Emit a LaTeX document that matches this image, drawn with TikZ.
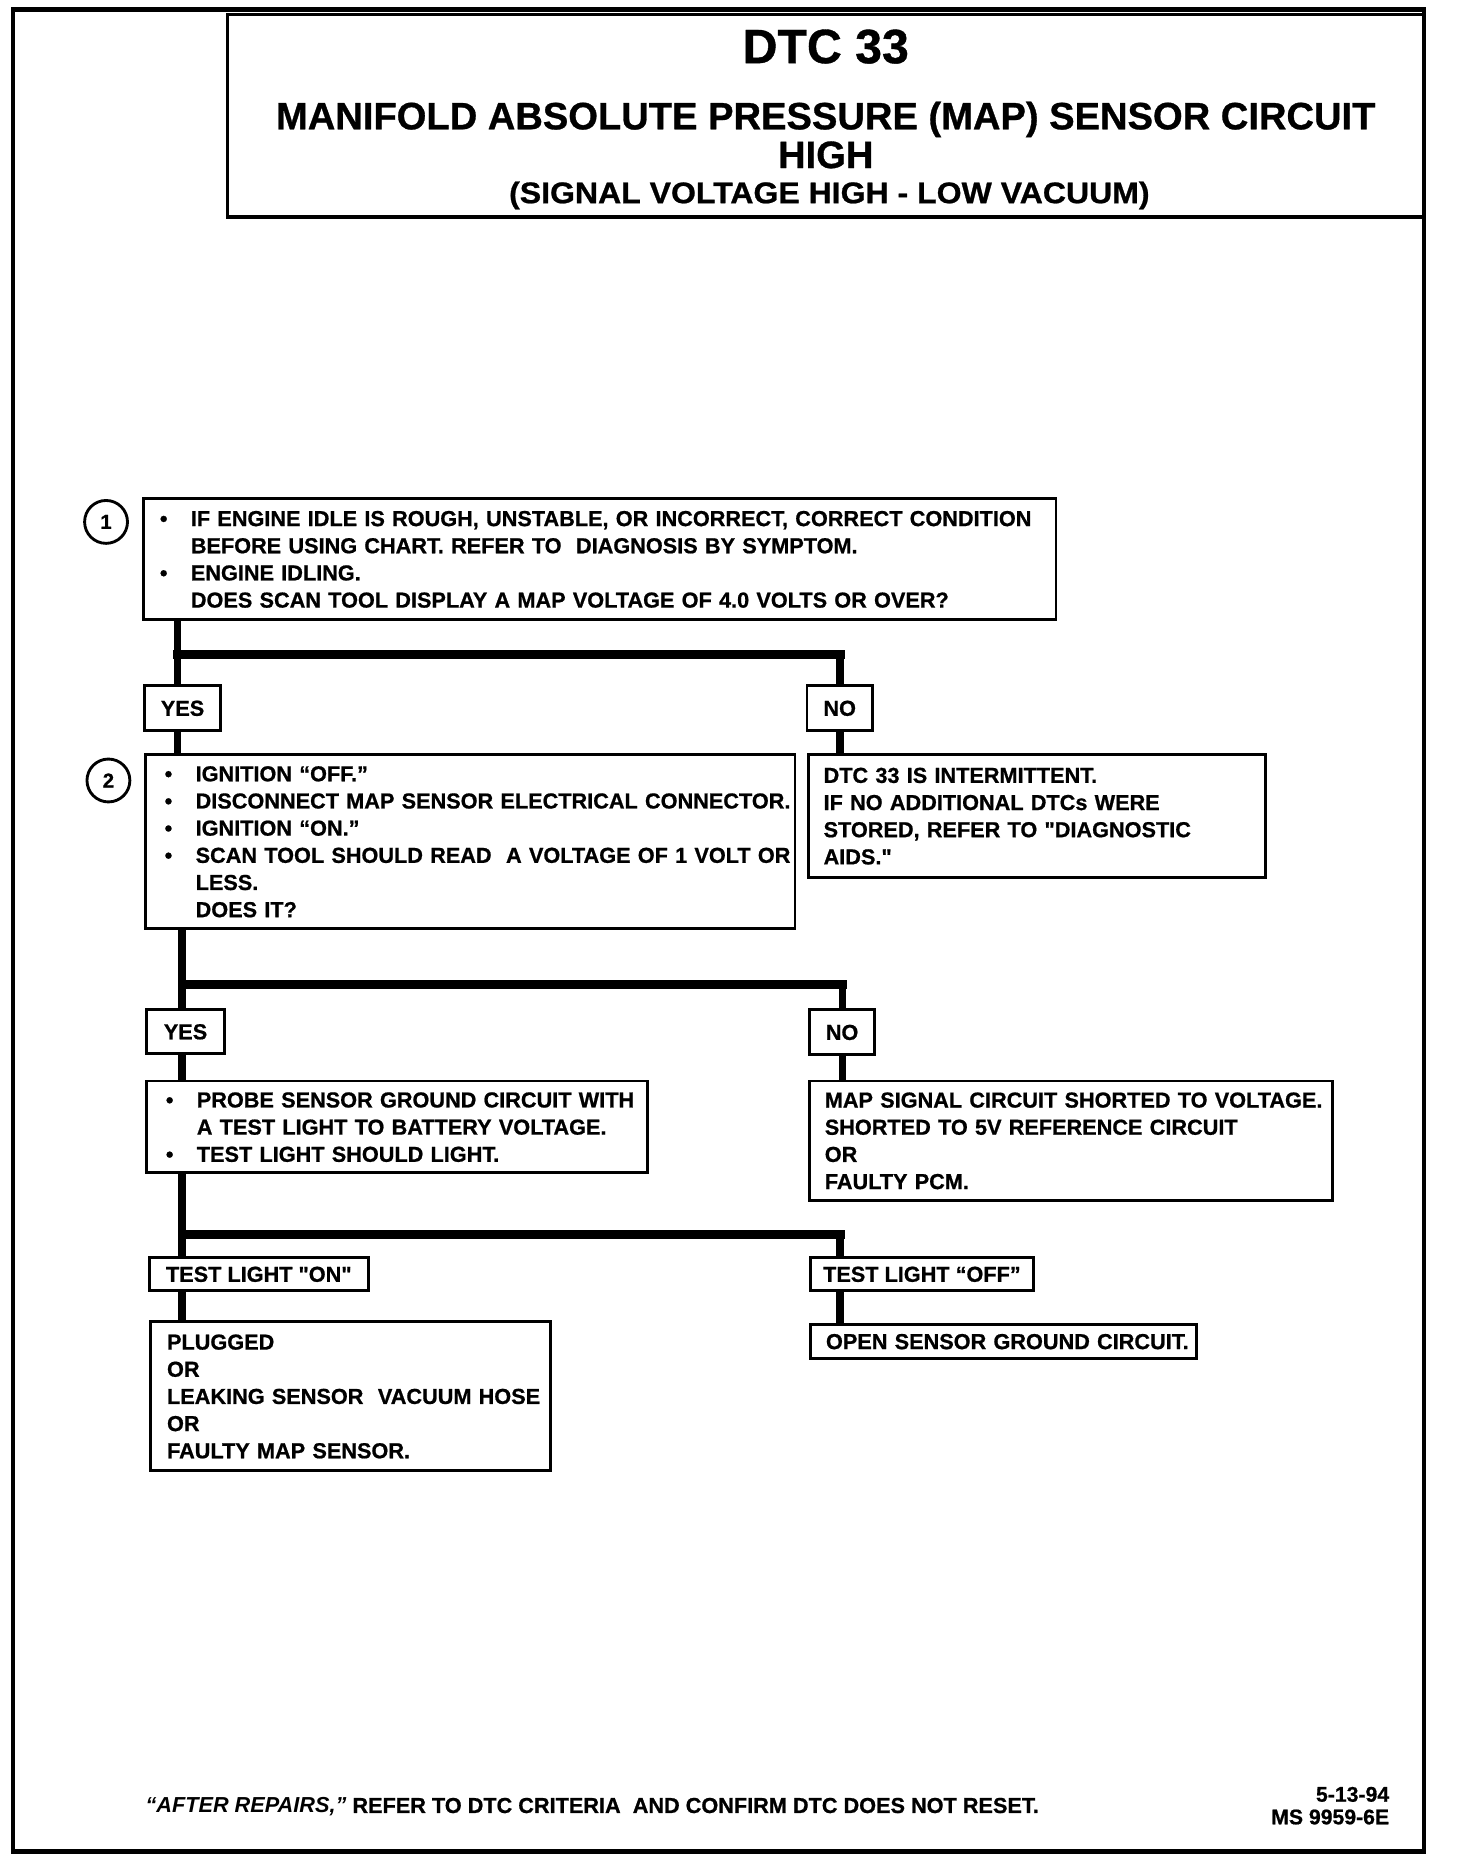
\documentclass[tikz,border=0pt]{standalone}
\usepackage{fontspec}
\usepackage{graphicx}
\setmainfont{Liberation Sans}[Ligatures=TeXOff, BoldFeatures={FakeBold=0.8}]
\newcommand{\bodyf}{\fontsize{18.2}{22.8}\selectfont\bfseries}
\newcommand{\bul}{\makebox[26pt][l]{\textbullet}}
\newcommand{\ind}{\hspace*{26pt}}
\begin{document}
\begin{tikzpicture}[x=1pt,y=-1pt,
  box/.style={draw, line width=2.4pt, anchor=north west, inner ysep=0pt, font=\bodyf, align=left, text height=13pt},
  lbl/.style={draw, line width=2.4pt, anchor=north west, inner sep=0pt, font=\bodyf, text height=13pt, text depth=0pt},
  flow/.style={line width=6.5pt},
  bar/.style={line width=7.5pt, line cap=rect},
  num/.style={circle, draw, line width=2.4pt, minimum size=36pt, inner sep=0pt, font=\fontsize{17}{17}\selectfont\bfseries},
  frame/.style={line width=4pt},
  ttl/.style={anchor=base, inner sep=0pt}
]
\useasboundingbox (0,0) rectangle (1222,1566);
% outer frame and title box
\draw[frame] (11,8) rectangle (1195,1554);
\draw[line width=3pt] (191,12) rectangle (1195,182);
\node[ttl, font=\fontsize{40.5}{40}\selectfont\bfseries] (t1) at (693,53) {DTC 33};
\node[ttl, font=\fontsize{32}{32}\selectfont\bfseries] (t2) at (693,108.5) {MANIFOLD ABSOLUTE PRESSURE (MAP) SENSOR CIRCUIT};
\node[ttl, font=\fontsize{32}{32}\selectfont\bfseries] (t3) at (693,141) {HIGH};
\node[ttl, font=\fontsize{25}{25}\selectfont\bfseries] (t4) at (696,170.5) {\scalebox{1.075}[1]{(SIGNAL VOLTAGE HIGH - LOW VACUUM)}};

% step numbers
\node[num] (c1) at (89,438) {1};
\node[num] (c2) at (91,655) {2};

% boxes
\node[box, inner xsep=14pt, text width=738pt, minimum height=102pt, text depth=68.4pt] (b1) at (119,417)
 {\mbox{\bul IF ENGINE IDLE IS ROUGH, UNSTABLE, OR INCORRECT, CORRECT CONDITION}\\
  \mbox{\ind BEFORE USING CHART. REFER TO\ \ DIAGNOSIS BY SYMPTOM.}\\
  \mbox{\bul ENGINE IDLING.}\\
  \mbox{\ind DOES SCAN TOOL DISPLAY A MAP VOLTAGE OF 4.0 VOLTS OR OVER?}};

\node[lbl, minimum width=64pt, minimum height=38pt] (yes1) at (120,574) {YES};
\node[lbl, minimum width=55pt, minimum height=38pt] (no1) at (676,574) {NO};

\node[box, inner xsep=16pt, text width=513pt, minimum height=146pt, text depth=114pt] (b2) at (121,632)
 {\mbox{\bul IGNITION “OFF.”}\\
  \mbox{\bul DISCONNECT MAP SENSOR ELECTRICAL CONNECTOR.}\\
  \mbox{\bul IGNITION “ON.”}\\
  \mbox{\bul SCAN TOOL SHOULD READ\ \ A VOLTAGE OF 1 VOLT OR}\\
  \mbox{\ind LESS.}\\
  \mbox{\ind DOES IT?}};

\node[box, inner xsep=13pt, text width=358pt, minimum height=103pt, text depth=68.4pt] (dtc) at (677,632)
 {\mbox{DTC 33 IS INTERMITTENT.}\\
  \mbox{IF NO ADDITIONAL DTCs WERE}\\
  \mbox{STORED, REFER TO "DIAGNOSTIC}\\
  \mbox{AIDS."}};

\node[lbl, minimum width=65pt, minimum height=37pt] (yes2) at (122,846) {YES};
\node[lbl, minimum width=55pt, minimum height=38pt] (no2) at (678,846) {NO};

\node[box, inner xsep=16pt, text width=388pt, minimum height=77pt, text depth=45.6pt] (b3) at (122,906)
 {\mbox{\bul PROBE SENSOR GROUND CIRCUIT WITH}\\
  \mbox{\ind A TEST LIGHT TO BATTERY VOLTAGE.}\\
  \mbox{\bul TEST LIGHT SHOULD LIGHT.}};

\node[box, inner xsep=13pt, text width=413pt, minimum height=100pt, text depth=68.4pt] (mapb) at (678,906)
 {\mbox{MAP SIGNAL CIRCUIT SHORTED TO VOLTAGE.}\\
  \mbox{SHORTED TO 5V REFERENCE CIRCUIT}\\
  \mbox{OR}\\
  \mbox{FAULTY PCM.}};

\node[lbl, minimum width=184pt, minimum height=28pt] (on1) at (124,1054) {TEST LIGHT "ON"};
\node[lbl, minimum width=187pt, minimum height=28pt] (off1) at (679,1054) {TEST LIGHT “OFF”};

\node[box, inner xsep=14pt, text width=308pt, minimum height=125pt, text depth=91.2pt] (plug) at (125,1108)
 {\mbox{PLUGGED}\\
  \mbox{OR}\\
  \mbox{LEAKING SENSOR\ \ VACUUM HOSE}\\
  \mbox{OR}\\
  \mbox{FAULTY MAP SENSOR.}};

\node[box, inner xsep=13pt, text width=298pt, minimum height=29pt, text depth=0pt] (open) at (679,1110)
 {\mbox{OPEN SENSOR GROUND CIRCUIT.}};

% junction points
\coordinate (j1) at (149,549);
\coordinate (v1) at (705,549);
\coordinate (j2) at (153,826);
\coordinate (v2) at (707,826);
\coordinate (j3) at (153,1036);
\coordinate (v3) at (705,1036);

% connectors, group 1
\draw[flow] (b1.south -| j1) -- (yes1.north -| j1);
\draw[bar] (j1) -- (v1);
\draw[flow] (v1) -- (no1.north -| v1);
\draw[flow] (yes1.south -| j1) -- (b2.north -| j1);
\draw[flow] (no1.south -| v1) -- (dtc.north -| v1);
% group 2
\draw[flow] (b2.south -| j2) -- (yes2.north -| j2);
\draw[bar] (j2) -- (v2);
\draw[flow] (v2) -- (no2.north -| v2);
\draw[flow] (yes2.south -| j2) -- (b3.north -| j2);
\draw[flow] (no2.south -| v2) -- (mapb.north -| v2);
% group 3
\draw[flow] (b3.south -| j3) -- (on1.north -| j3);
\draw[bar] (j3) -- (v3);
\draw[flow] (v3) -- (off1.north -| v3);
\draw[flow] (on1.south -| j3) -- (plug.north -| j3);
\draw[flow] (off1.south -| v3) -- (open.north -| v3);

% footer
\node[anchor=base west, inner sep=0pt, font=\bodyf] (foot) at (122,1521.5)
 {{\itshape “AFTER REPAIRS,”} REFER TO DTC CRITERIA\ \ AND CONFIRM DTC DOES NOT RESET.};
\node[anchor=base east, inner sep=0pt, font=\fontsize{17.8}{19}\selectfont\bfseries] (d1) at (1166,1512) {5-13-94};
\node[anchor=base east, inner sep=0pt, font=\fontsize{17.8}{19}\selectfont\bfseries] (d2) at (1166,1531) {MS 9959-6E};
\end{tikzpicture}
\end{document}
